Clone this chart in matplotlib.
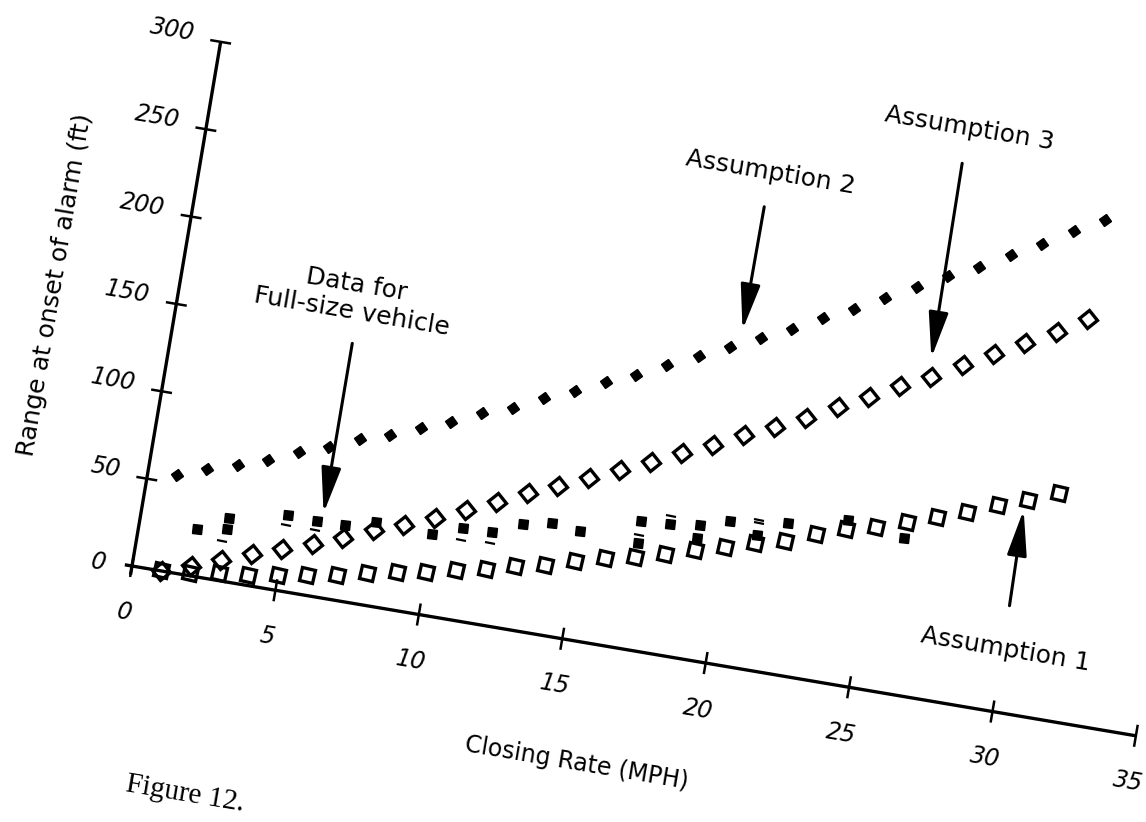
import numpy as np
import matplotlib
matplotlib.use("Agg")
import matplotlib.pyplot as plt
from matplotlib.transforms import Affine2D
from matplotlib.markers import MarkerStyle

# closing rate (MPH) for the three model curves
speed = list(range(1, 32))
# Assumption 1 : open squares
assump1 = [0.4, 1.7, 4.4, 5.9, 8.6, 11.5, 14.3, 18.1, 21.8, 24.5, 28.3, 31.5, 35.9,
           39.7, 44.5, 48.9, 52.6, 56.9, 61.8, 66.2, 71.2, 75.2, 82.4, 87.6, 91.8,
           97.4, 103.0, 108.6, 115.3, 121.3, 127.6]
# Assumption 2 : small filled diamonds
assump2 = [55, 61, 66, 72, 79, 85, 92, 97, 104, 110, 118, 124, 132, 139, 147, 154,
           162, 170, 178, 186, 194, 203, 211, 220, 229, 238, 246, 256, 265, 275, 284]
# Assumption 3 : open diamonds
assump3 = [0, 5.6, 11.6, 17.7, 23.8, 29.5, 35.6, 42.6, 48.4, 55.0, 62.6, 70.2, 77.8,
           84.4, 91.8, 99.4, 106.9, 114.5, 122.0, 130.5, 137.8, 145.9, 155.1, 163.3,
           172.2, 180.6, 190.1, 198.8, 208.0, 217.1, 227.7]

# measured data, full-size vehicle
data_x = [2, 3, 3, 5, 6, 7, 8, 10, 11, 12, 13, 14, 15, 17, 17, 18, 19, 19, 20, 21,
          22, 24, 26]
data_y = [26.7, 35.6, 29.3, 42.9, 42.5, 42.7, 47.6, 46.1, 52.4, 52.8, 60.3, 63.5,
          61.6, 73.2, 60.6, 73.9, 76.3, 68.8, 81.4, 76.1, 85.7, 92.8, 88.4]
# small dash marks printed with the data
dash_x = [2.9, 5, 6, 11, 12, 17, 18, 21, 21]
dash_y = [22.5, 37.2, 37.1, 45.4, 46.5, 64.9, 78.5, 84.5, 82.7]

x_ticks = [0, 5, 10, 15, 20, 25, 30, 35]
y_ticks = [0, 50, 100, 150, 200, 250, 300]

# the scanned page is tilted
ANGLE = -9.6

fig = plt.figure(figsize=(11.46, 8.22), dpi=100)
ax = fig.add_axes([0, 0, 1, 1])
ax.set_xlim(0, 1146)
ax.set_ylim(0, 822)
ax.axis("off")

# chart coordinates (mph, ft) -> page pixels
tr = Affine2D().scale(29.09, 1.772).rotate_deg(ANGLE).translate(132, 256) + ax.transData


def mk(name):
    return MarkerStyle(name, transform=Affine2D().rotate_deg(ANGLE))


def put(x, y, s, **kw):
    kw.setdefault("rotation", ANGLE)
    kw.setdefault("ha", "center")
    kw.setdefault("va", "center")
    ax.text(x, y, s, transform=tr, rotation_mode="anchor", **kw)


# axes
ax.plot([-0.25, 35], [0, 0], color="black", lw=2.4, transform=tr, solid_capstyle="butt")
ax.plot([0, 0], [-5, 300], color="black", lw=2.4, transform=tr, solid_capstyle="butt")
for t in x_ticks:
    ax.plot([t, t], [-5.6, 5.6], color="black", lw=1.8, transform=tr)
    put(t, -26.5, str(t), fontsize=17, style="italic")
for t in y_ticks:
    if t == 0:
        put(-0.9, -1, "0", ha="right", fontsize=17, style="italic")
        continue
    ax.plot([-0.32, 0.32], [t, t], color="black", lw=1.8, transform=tr)
    put(-0.95, t + 2, str(t), ha="right", fontsize=17, style="italic")

put(16.2, -68, "Closing Rate (MPH)", fontsize=17)
put(-4.2, 149, "Range at onset of alarm (ft)", rotation=90 + ANGLE, fontsize=18)

# series
ax.plot(speed, assump2, ls="none", marker=mk("D"), ms=6, color="black", transform=tr)
ax.plot(speed, assump3, ls="none", marker=mk("D"), ms=9, mew=2.4, mfc="none",
        mec="black", transform=tr)
ax.plot(speed, assump1, ls="none", marker=mk("s"), ms=9.5, mew=2.4, mfc="none",
        mec="black", transform=tr)
ax.plot(data_x, data_y, ls="none", marker=mk("s"), ms=6.5, color="black", transform=tr)
ax.plot(dash_x, dash_y, ls="none", marker=mk("_"), ms=7, mew=1.6, color="black",
        transform=tr)

# labels with arrows
arrow = dict(arrowstyle="-|>,head_length=1.4,head_width=0.3", mutation_scale=20,
             color="black", lw=2.2, shrinkA=0, shrinkB=0)
notes = [
    ("Data for\nFull-size vehicle", (6.0, 170), (6.19, 144.6), (6.19, 47.4)),
    ("Assumption 2", (19.4, 279), (19.37, 259.4), (19.34, 188.8)),
    ("Assumption 3", (25.87, 322.5), (25.83, 302.2), (25.9, 191)),
    ("Assumption 1", (30.1, 35.6), (29.97, 60.5), (29.9, 115.2)),
]
for label, pos, tail, tip in notes:
    put(pos[0], pos[1], label, fontsize=18, linespacing=1.15)
    ax.annotate("", xy=tip, xycoords=tr, xytext=tail, textcoords=tr, arrowprops=arrow)

put(3.1, -122, "Figure 12.", fontsize=21, family="Liberation Serif")

fig.savefig("out.png", dpi=100)
